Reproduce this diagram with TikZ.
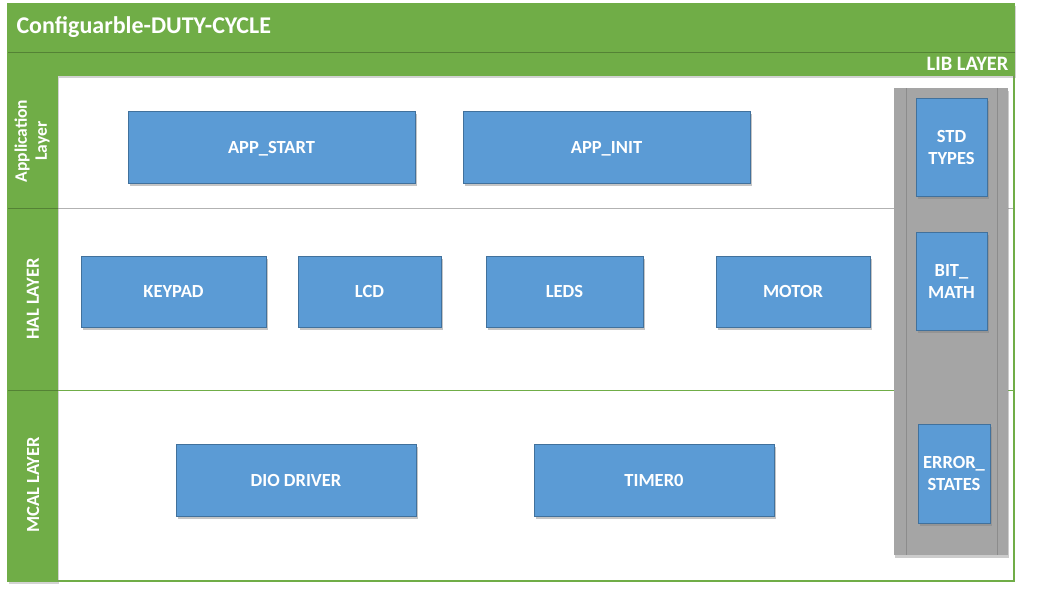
\documentclass[tikz,border=0pt]{standalone}
\usepackage{fontspec}
\setmainfont{Carlito}
\usepackage{tikz}
\usetikzlibrary{positioning,shadows}

\definecolor{libgreen}{HTML}{70AD47}
\definecolor{darkgreen}{HTML}{548235}
\definecolor{boxblue}{HTML}{5B9BD5}
\definecolor{boxedge}{HTML}{41719C}
\definecolor{libgray}{HTML}{A5A5A5}
\definecolor{libline}{HTML}{8C8C8C}

\begin{document}
\begin{tikzpicture}[x=1pt,y=-1pt,
    block/.style={draw=boxedge,fill=boxblue,line width=0.8pt,text=white,
        font=\bfseries\fontsize{18.5}{22}\selectfont,align=center,
        drop shadow={shadow xshift=2pt,shadow yshift=-3pt,opacity=0.45},
        inner sep=0pt,text depth=0pt},
    sidelabel/.style={rotate=90,text=white,align=center,
        font=\bfseries\fontsize{18.5}{20}\selectfont}]
\useasboundingbox (0,0) rectangle (1059,592);

% Frame and rows
\fill[white] (8,4) rectangle (1015,582);
\draw[libgreen,line width=1.2pt] (8,4) rectangle (1014,581);
\draw[gray!60,line width=0.8pt] (58,208) -- (1013,208);
\draw[libgreen,line width=0.8pt] (58,390) -- (1013,390);

% Title bars
\fill[libgreen,drop shadow={shadow xshift=1pt,shadow yshift=-2pt,opacity=0.35}] (8,4) rectangle (1015,76);
\draw[darkgreen,line width=0.8pt] (8,52) -- (1015,52);
\node[anchor=west,text=white,font=\bfseries\fontsize{24}{27}\selectfont] (title) at (13,27) {Configuarble-DUTY-CYCLE};
\node[anchor=east,text=white,font=\bfseries\fontsize{20.5}{22}\selectfont] (liblayer) at (1012,64) {LIB LAYER};

% Left column
\fill[libgreen,drop shadow={shadow xshift=1pt,shadow yshift=-2pt,opacity=0.35}] (8,76) rectangle (58,582);
\draw[darkgreen,line width=0.8pt] (8,208) -- (58,208);
\draw[darkgreen,line width=0.8pt] (8,390) -- (58,390);
\node[sidelabel,font=\bfseries\fontsize{17.5}{20}\selectfont] (applayer) at (32,141) {Application\\Layer};
\node[sidelabel] (hallayer) at (33,299) {HAL LAYER};
\node[sidelabel] (mcallayer) at (33,485) {MCAL LAYER};

% LIB column
\fill[libgray,drop shadow={shadow xshift=1pt,shadow yshift=-3pt,opacity=0.4}] (894,88) rectangle (1008,555);
\draw[libline,line width=0.6pt] (906,88) -- (906,555);
\draw[libline,line width=0.6pt] (997,88) -- (997,555);

% Application layer
\node[block,minimum width=287pt,minimum height=72pt] (appstart) at (271.5,147) {APP\_START};
\node[block,minimum width=287pt,minimum height=72pt] (appinit) at (606.5,147) {APP\_INIT};

% HAL layer
\node[block,minimum width=185pt,minimum height=71pt] (keypad) at (173.5,291.5) {KEYPAD};
\node[block,minimum width=143pt,minimum height=71pt] (lcd) at (369.5,291.5) {LCD};
\node[block,minimum width=157pt,minimum height=71pt] (leds) at (564.5,291.5) {LEDS};
\node[block,minimum width=154pt,minimum height=71pt] (motor) at (793,291.5) {MOTOR};

% MCAL layer
\node[block,minimum width=240pt,minimum height=72pt] (dio) at (296,480) {DIO DRIVER};
\node[block,minimum width=240pt,minimum height=72pt] (timer) at (654,480) {TIMER0};

% LIB layer
\node[block,minimum width=71pt,minimum height=98pt] (stdtypes) at (951.5,147) {STD\\TYPES};
\node[block,minimum width=71pt,minimum height=98pt] (bitmath) at (951.5,281) {BIT\_\\MATH};
\node[block,minimum width=72pt,minimum height=99pt] (errstates) at (954,473.5) {ERROR\_\\STATES};
\end{tikzpicture}
\end{document}
